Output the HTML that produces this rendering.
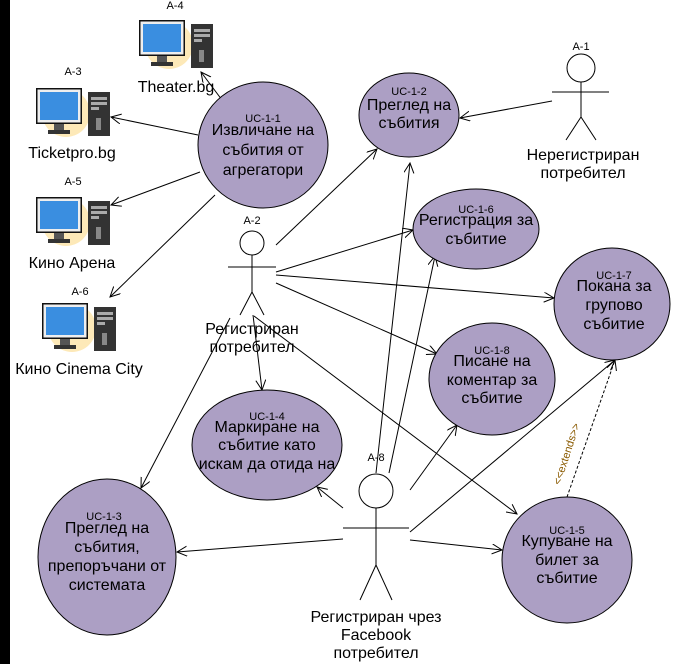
<!DOCTYPE html>
<html><head><meta charset="utf-8"><style>
body{margin:0;background:#fff;}
svg{display:block;font-family:"Liberation Sans",sans-serif;}
</style></head><body>
<svg width="677" height="664" viewBox="0 0 677 664" xmlns="http://www.w3.org/2000/svg">
<defs>
<marker id="a" markerWidth="12" markerHeight="12" refX="10" refY="5" orient="auto" markerUnits="userSpaceOnUse">
<path d="M0,0 L10,5 L0,10" fill="none" stroke="#000" stroke-width="1"/></marker>
<g id="pc">
<circle cx="30" cy="25" r="24" fill="#fde9b8"/>
<rect x="0" y="0" width="46" height="36" fill="#111"/>
<rect x="1.5" y="1.5" width="43" height="33" fill="#eee"/>
<rect x="4" y="4" width="38" height="28" fill="#3a8ee0"/>
<rect x="18" y="36" width="10" height="6" fill="#555"/>
<rect x="12" y="42" width="22" height="4" fill="#333"/>
<rect x="52" y="4" width="22" height="44" fill="#333"/>
<rect x="55" y="9" width="16" height="3" fill="#aaa"/>
<rect x="55" y="14" width="16" height="3" fill="#aaa"/>
<rect x="55" y="19" width="8" height="3" fill="#aaa"/>
<rect x="60" y="30" width="5" height="12" fill="#888"/>
</g>
</defs>
<rect x="0" y="0" width="10" height="664" fill="#000"/>

<g font-size="11" text-anchor="middle">
<text x="175" y="9">A-4</text>
<text x="73" y="75">A-3</text>
<text x="73" y="185">A-5</text>
<text x="80" y="295">A-6</text>
</g>
<use href="#pc" x="139" y="20"/>
<use href="#pc" x="36" y="88"/>
<use href="#pc" x="36" y="197"/>
<use href="#pc" x="42" y="303"/>
<g font-size="16" text-anchor="middle">
<text x="176" y="92">Theater.bg</text>
<text x="72" y="158">Ticketpro.bg</text>
<text x="72" y="268">Кино Арена</text>
<text x="79" y="374">Кино Cinema City</text>
</g>

<g stroke="#000" stroke-width="1" fill="none" marker-end="url(#a)">
<line x1="222" y1="100" x2="201" y2="72"/>
<line x1="198" y1="135" x2="111" y2="117"/>
<line x1="200" y1="172" x2="111" y2="205"/>
<line x1="215" y1="195" x2="110" y2="297"/>
<line x1="276" y1="245" x2="377" y2="149"/>
<line x1="552" y1="101" x2="460" y2="118"/>
<line x1="276" y1="272" x2="413" y2="230"/>
<line x1="276" y1="275" x2="554" y2="298"/>
<line x1="276" y1="283" x2="437" y2="354"/>
<line x1="253" y1="315" x2="262" y2="390"/>
<line x1="230" y1="318" x2="141" y2="488"/>
<line x1="254" y1="316" x2="517" y2="514"/>
<line x1="376" y1="473" x2="410" y2="163"/>
<line x1="389" y1="473" x2="435" y2="256"/>
<line x1="410" y1="490" x2="457" y2="425"/>
<line x1="343" y1="508" x2="317" y2="487"/>
<line x1="343" y1="539" x2="177" y2="552"/>
<line x1="410" y1="532" x2="615" y2="360"/>
<line x1="410" y1="540" x2="502" y2="550"/>
<line x1="567" y1="497" x2="615" y2="360" stroke-dasharray="3,2"/>
</g>
<text x="0" y="0" font-size="11" fill="#8a5a00" transform="translate(570,455) rotate(-72)" text-anchor="middle">&lt;&lt;extends&gt;&gt;</text>

<g fill="#ac9fc4" stroke="#000" stroke-width="1">
<ellipse cx="263" cy="145" rx="65" ry="63"/>
<ellipse cx="409" cy="115" rx="50" ry="42"/>
<ellipse cx="476" cy="229" rx="63" ry="40"/>
<ellipse cx="612" cy="304" rx="58" ry="56"/>
<ellipse cx="492" cy="379" rx="63" ry="56"/>
<ellipse cx="267" cy="445" rx="75" ry="55"/>
<ellipse cx="567" cy="560" rx="65" ry="63"/>
<ellipse cx="107" cy="557" rx="69" ry="78"/>
</g>

<g text-anchor="middle">
<g font-size="11">
<text x="263" y="122">UC-1-1</text>
<text x="409" y="95">UC-1-2</text>
<text x="476" y="213">UC-1-6</text>
<text x="614" y="279">UC-1-7</text>
<text x="492" y="354">UC-1-8</text>
<text x="267" y="420">UC-1-4</text>
<text x="567" y="534">UC-1-5</text>
<text x="104" y="520">UC-1-3</text>
</g>
<g font-size="16">
<text x="263" y="135">Извличане на</text><text x="263" y="155">събития от</text><text x="263" y="175">агрегатори</text>
<text x="409" y="110">Преглед на</text><text x="409" y="128">събития</text>
<text x="476" y="225">Регистрация за</text><text x="476" y="244">събитие</text>
<text x="614" y="291">Покана за</text><text x="614" y="310">групово</text><text x="614" y="329">събитие</text>
<text x="492" y="366">Писане на</text><text x="492" y="385">коментар за</text><text x="492" y="403">събитие</text>
<text x="267" y="432">Маркиране на</text><text x="267" y="450">събитие като</text><text x="267" y="469">искам да отида на</text>
<text x="567" y="546">Купуване на</text><text x="567" y="565">билет за</text><text x="567" y="583">събитие</text>
<text x="107" y="533">Преглед на</text><text x="107" y="552">събития,</text><text x="107" y="571">препоръчани от</text><text x="107" y="590">системата</text>
</g>
</g>

<g stroke="#000" stroke-width="1" fill="#fff">
<circle cx="581" cy="68" r="14"/>
<path d="M581 82 V117 M552 92 H609 M581 117 L566 140 M581 117 L596 140" fill="none"/>
<circle cx="252" cy="243" r="12"/>
<path d="M252 255 V292 M228 267 H276 M252 292 L240 315 M252 292 L264 315" fill="none"/>
<circle cx="376" cy="491" r="17"/>
<path d="M376 508 V565 M343 528 H409 M376 565 L360 600 M376 565 L392 600" fill="none"/>
</g>
<g text-anchor="middle">
<text x="581" y="50" font-size="11">A-1</text>
<text x="252" y="224" font-size="11">A-2</text>
<text x="376" y="461" font-size="11">A-8</text>
<g font-size="16">
<text x="583" y="160">Нерегистриран</text><text x="583" y="178">потребител</text>
<text x="252" y="334">Регистриран</text><text x="252" y="352">потребител</text>
<text x="376" y="622">Регистриран чрез</text><text x="376" y="640">Facebook</text><text x="376" y="658">потребител</text>
</g>
</g>
</svg>
</body></html>
